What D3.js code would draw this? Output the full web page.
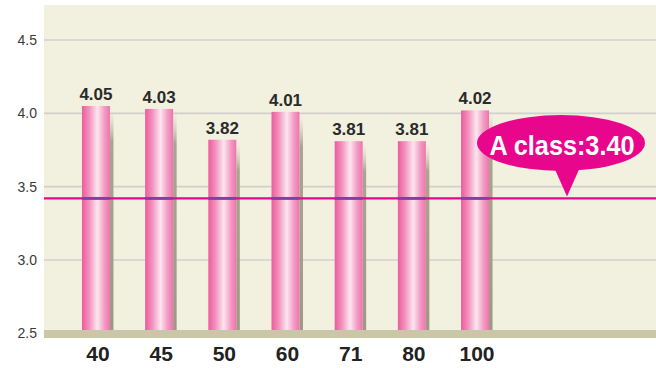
<!DOCTYPE html>
<html><head><meta charset="utf-8">
<script src="https://cdn.jsdelivr.net/npm/d3@7"></script>
<style>html,body{margin:0;padding:0;background:#fff;}svg{display:block;font-family:"Liberation Sans",Arial,sans-serif;}</style>
</head><body><svg id="c" width="656" height="368"></svg>
<script>
const categories = ["40","45","50","60","71","80","100"];
const values = [4.05, 4.03, 3.82, 4.01, 3.81, 3.81, 4.02];
const valueLabels = ["4.05","4.03","3.82","4.01","3.81","3.81","4.02"];
const yTicks = [2.5, 3.0, 3.5, 4.0, 4.5];
const thresholdValue = 3.42;
const thresholdLabel = "A class:3.40";

const svg = d3.select("#c");
const W = 656;
const plotLeft = 44, plotTop = 5, floorTop = 330, floorBottom = 338;

const y = d3.scaleLinear().domain([2.5, 4.5]).range([333.3, 40]);
const x = d3.scaleBand().domain(categories).range([44, 527]).paddingInner(0.557).paddingOuter(0.601);

const defs = svg.append("defs");
const g = defs.append("linearGradient").attr("id","barG").attr("x1","0").attr("x2","1").attr("y1","0").attr("y2","0");
[[0,"#ec5c9c"],[0.25,"#f290bd"],[0.55,"#fce6ef"],[0.8,"#f39cc4"],[1,"#ee74ac"]].forEach(s=>g.append("stop").attr("offset",s[0]).attr("stop-color",s[1]));
const sg = defs.append("linearGradient").attr("id","shG").attr("x1","0").attr("x2","0").attr("y1","0").attr("y2","1");
[[0,"#d8d6c0",0],[0.15,"#a8a68e",1],[1,"#9c9a82",1]].forEach(s=>sg.append("stop").attr("offset",s[0]).attr("stop-color",s[1]).attr("stop-opacity",s[2]));

// background
svg.append("rect").attr("x",plotLeft).attr("y",plotTop).attr("width",W-plotLeft).attr("height",floorTop-plotTop).attr("fill","#f2f0df");

// gridlines
svg.append("g").selectAll("line").data(yTicks.filter(d=>d>2.5)).join("line")
  .attr("x1",plotLeft).attr("x2",W).attr("y1",d=>y(d)).attr("y2",d=>y(d))
  .attr("stroke","#d0d0cc").attr("stroke-width",1.6);

// y axis labels
const yAxis = d3.axisLeft(y).tickValues(yTicks).tickFormat(d3.format(".1f")).tickSize(0).tickPadding(0);
const ya = svg.append("g").attr("transform","translate(37,0)").call(yAxis);
ya.select(".domain").remove();
ya.selectAll("text").attr("font-size",14).attr("fill","#3a3a3a").attr("font-family","'Liberation Sans',Arial,sans-serif");

// shadows
svg.append("g").selectAll("rect").data(values).join("rect")
  .attr("x",(d,i)=>x(categories[i])+x.bandwidth())
  .attr("y",d=>y(d)+2)
  .attr("width",3.5)
  .attr("height",d=>floorTop-y(d)-2)
  .attr("fill","url(#shG)");

// bars
svg.append("g").selectAll("rect").data(values).join("rect")
  .attr("x",(d,i)=>x(categories[i]))
  .attr("y",d=>y(d))
  .attr("width",x.bandwidth())
  .attr("height",d=>floorTop-y(d))
  .attr("fill","url(#barG)");

// floor
svg.append("rect").attr("x",plotLeft).attr("y",floorTop).attr("width",W-plotLeft).attr("height",floorBottom-floorTop).attr("fill","#c9c7a7");

// threshold line
svg.append("line").attr("x1",plotLeft).attr("x2",W).attr("y1",y(thresholdValue)).attr("y2",y(thresholdValue))
  .attr("stroke","#e8068c").attr("stroke-width",2.4);
svg.append("g").selectAll("rect").data(categories).join("rect")
  .attr("x",d=>x(d)).attr("width",x.bandwidth())
  .attr("y",y(thresholdValue)-1.4).attr("height",2.8)
  .attr("fill","#83409c");

// value labels
svg.append("g").selectAll("text").data(values).join("text")
  .attr("x",(d,i)=>x(categories[i])+x.bandwidth()/2)
  .attr("y",d=>y(d)-6)
  .attr("text-anchor","middle").attr("font-size",17).attr("font-weight","bold").attr("fill","#2a2a2a")
  .text((d,i)=>valueLabels[i]);

// x labels
svg.append("g").selectAll("text").data(categories).join("text")
  .attr("x",d=>x(d)+x.bandwidth()/2+2)
  .attr("y",361)
  .attr("text-anchor","middle").attr("font-size",21).attr("font-weight","bold").attr("fill","#222")
  .text(d=>d);

// callout
const cx = 561, cy = 143, rx = 84, ry = 28;
const tipX = 567, tipY = y(thresholdValue) - 2;
svg.append("path").attr("d",`M${cx-8},${cy+ry-6} L${tipX},${tipY} L${cx+20},${cy+ry-6} Z`).attr("fill","#e8068c");
svg.append("ellipse").attr("cx",cx).attr("cy",cy).attr("rx",rx).attr("ry",ry).attr("fill","#e8068c");
svg.append("text").attr("x",cx+1).attr("y",cy+12).attr("text-anchor","middle")
  .attr("font-size",27).attr("font-weight","bold").attr("fill","#fff")
  .attr("textLength",145).attr("lengthAdjust","spacingAndGlyphs")
  .text(thresholdLabel);
</script></body></html>
